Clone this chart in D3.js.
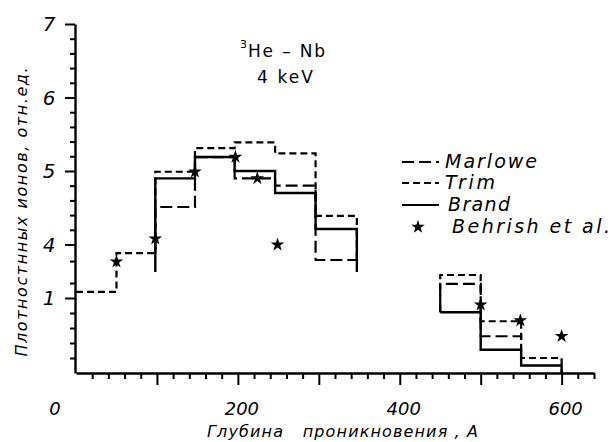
<!DOCTYPE html>
<html>
<head>
<meta charset="utf-8">
<script src="https://cdn.jsdelivr.net/npm/d3@7"></script>
<style>
  body { margin: 0; background: #fff; }
  text { font-family: "DejaVu Sans", sans-serif; fill: #000; }
</style>
</head>
<body>
<div id="chart"></div>
<script>
// bin edges, depth in A
const binEdgesLeft = [0, 50, 98, 147, 196, 246, 296, 347];
const binEdgesRight = [450, 500, 550, 600];

// relative ion density per bin (NaN = no bar)
const marloweLeft = [NaN, NaN, 4.51, 5.19, 4.90, 4.80, 3.13];
const trimLeft = [1.34, 3.52, 4.99, 5.31, 5.39, 5.24, 4.39];
const brandLeft = [NaN, NaN, 4.90, 5.19, 5.00, 4.70, 4.21];
const marloweRight = [1.79, 0.49, NaN];
const trimRight = [2.29, 0.69, 0.20];
const brandRight = [0.81, 0.31, 0.10];

// levels the outline drops to at each end: [left start, left end, right start, right end]
const marloweEnds = [3.52, 3.13, 0.81, 0.40];
const trimEnds = [NaN, 3.13, 0.81, 0];
const brandEnds = [2.46, 2.46, 0.81, 0];

// Behrish et al. points
const behrishDepth = [50, 98, 147, 197, 224, 249, 500, 549, 600];
const behrishValue = [3.04, 4.08, 4.99, 5.19, 4.90, 3.99, 0.91, 0.70, 0.49];

// axis ticks
const yLabelTicks = [1, 4, 5, 6, 7];
const yMinorTicks = [0.2, 0.4, 0.6, 0.8, 1.84, 3.07, 4.2, 4.4, 4.6, 4.8, 5.2, 5.4, 5.6, 5.8, 6.2, 6.4, 6.6, 6.8];
const xMajorTicks = [100, 200, 300, 400, 500, 600];
const xMinorTicks = d3.range(20, 641, 20).filter(d => d % 100 !== 0);
const xLabelTicks = [0, 200, 400, 600];

const legendNames = ["Marlowe", "Trim", "Brand", "Behrish et al."];

const width = 613, height = 442;

const svg = d3.select("#chart")
    .append("svg")
    .attr("width", width)
    .attr("height", height);

const x = d3.scaleLinear().domain([0, 640]).range([76, 594]);
// broken axis: 1 and 4 sit close together
const y = d3.scaleLinear().domain([0, 1, 4, 7]).range([373, 298, 244.5, 24]);

//x axis
let gX = svg.append("g")
    .attr("transform", "translate(0," + y(0) + ")");
gX.append("g")
    .call(d3.axisBottom(x).tickValues(xMinorTicks).tickSize(6).tickSizeOuter(0).tickFormat(""));
gX.append("g")
    .call(d3.axisBottom(x).tickValues(xMajorTicks).tickSize(12).tickSizeOuter(0).tickFormat(""))
    .select(".domain").remove();
gX.selectAll("line").attr("stroke-width", 2);
gX.select(".domain").attr("stroke-width", 2.4);

gX.selectAll(".xlab")
    .data(xLabelTicks)
    .enter()
    .append("text")
    .attr("class", "xlab")
    .attr("x", d => d === 0 ? x(d) - 21 : x(d) + 4)
    .attr("y", 42)
    .attr("text-anchor", "middle")
    .attr("font-size", "18px")
    .attr("font-style", "italic")
    .text(d => d);

//y axis
let gY = svg.append("g")
    .attr("transform", "translate(" + (x(0) - 1) + ",0)");
gY.append("g")
    .call(d3.axisLeft(y).tickValues(yMinorTicks).tickSize(5).tickSizeOuter(0).tickFormat(""));
gY.append("g")
    .call(d3.axisLeft(y).tickValues(yLabelTicks).tickSize(10).tickSizeOuter(0).tickFormat(""))
    .select(".domain").remove();
gY.selectAll("line").attr("stroke-width", 2);
gY.select(".domain").attr("stroke-width", 2.4);

gY.selectAll(".ylab")
    .data(yLabelTicks)
    .enter()
    .append("text")
    .attr("class", "ylab")
    .attr("x", -26)
    .attr("y", d => y(d) + 7)
    .attr("text-anchor", "middle")
    .attr("font-size", "20px")
    .attr("font-style", "italic")
    .text(d => d);

// axis titles
svg.append("text")
    .attr("x", 207)
    .attr("y", 437)
    .attr("font-size", "16px")
    .attr("font-style", "italic")
    .attr("textLength", 271)
    .attr("lengthAdjust", "spacing")
    .style("white-space", "pre")
    .text("Глубина   проникновения , А");

svg.append("text")
    .attr("transform", "translate(27 212) rotate(270)")
    .attr("text-anchor", "middle")
    .attr("font-size", "16px")
    .attr("font-style", "italic")
    .attr("textLength", 289)
    .attr("lengthAdjust", "spacing")
    .text("Плотностнных ионов, отн.ед.");

// title
svg.append("text")
    .attr("x", 240)
    .attr("y", 48)
    .attr("font-size", "11px")
    .text("3");
svg.append("text")
    .attr("x", 248)
    .attr("y", 57)
    .attr("font-size", "17px")
    .attr("textLength", 77)
    .attr("lengthAdjust", "spacing")
    .text("He – Nb");
svg.append("text")
    .attr("x", 257)
    .attr("y", 83)
    .attr("font-size", "17px")
    .attr("textLength", 56)
    .attr("lengthAdjust", "spacing")
    .text("4 keV");

// step outlines
function stepPoints(edges, values, startLevel, endLevel) {
    let pts = [];
    let idx = values.map((v, i) => i).filter(i => isFinite(values[i]));
    if (idx.length === 0) return pts;
    let first = idx[0], last = idx[idx.length - 1];
    if (isFinite(startLevel)) pts.push([edges[first], startLevel]);
    idx.forEach(i => {
        pts.push([edges[i], values[i]]);
        pts.push([edges[i + 1], values[i]]);
    });
    if (isFinite(endLevel)) pts.push([edges[last + 1], endLevel]);
    return pts;
}

const line = d3.line()
    .x(d => x(d[0]))
    .y(d => y(d[1]));

const series = [
    { left: trimLeft, right: trimRight, ends: trimEnds, dash: "7,4", width: 2.2 },
    { left: marloweLeft, right: marloweRight, ends: marloweEnds, dash: "12,5", width: 2.2 },
    { left: brandLeft, right: brandRight, ends: brandEnds, dash: null, width: 2.4 }
];

let plot = svg.append("g").attr("id", "plot");
series.forEach(s => {
    [stepPoints(binEdgesLeft, s.left, s.ends[0], s.ends[1]),
     stepPoints(binEdgesRight, s.right, s.ends[2], s.ends[3])].forEach(pts => {
        plot.append("path")
            .attr("d", line(pts))
            .attr("fill", "none")
            .attr("stroke", "#000")
            .attr("stroke-width", s.width)
            .attr("stroke-dasharray", s.dash);
    });
});

const star = d3.symbol().type(d3.symbolStar).size(58);
plot.selectAll(".star")
    .data(behrishDepth)
    .enter()
    .append("path")
    .attr("class", "star")
    .attr("d", star)
    .attr("transform", (d, i) => "translate(" + x(d) + "," + y(behrishValue[i]) + ")")
    .attr("fill", "#000");

// legend
let legend = svg.append("g").attr("id", "legend");
const legendY = [162, 183, 205, 227];
const legendTextX = [445, 445, 448, 452];
const legendTextLen = [92, 50, 62, 158];
const legendDash = ["12,5", "7,4", null];
[0, 1, 2].forEach(i => {
    legend.append("line")
        .attr("x1", 402)
        .attr("x2", 439)
        .attr("y1", legendY[i])
        .attr("y2", legendY[i])
        .attr("stroke", "#000")
        .attr("stroke-width", 2.2)
        .attr("stroke-dasharray", legendDash[i]);
});
legend.append("path")
    .attr("d", star)
    .attr("transform", "translate(418," + legendY[3] + ")")
    .attr("fill", "#000");
legendNames.forEach((name, i) => {
    legend.append("text")
        .attr("x", legendTextX[i])
        .attr("y", legendY[i] + 6)
        .attr("font-size", "19px")
        .attr("font-style", "italic")
        .attr("textLength", legendTextLen[i])
        .attr("lengthAdjust", "spacing")
        .text(name);
});
</script>
</body>
</html>
